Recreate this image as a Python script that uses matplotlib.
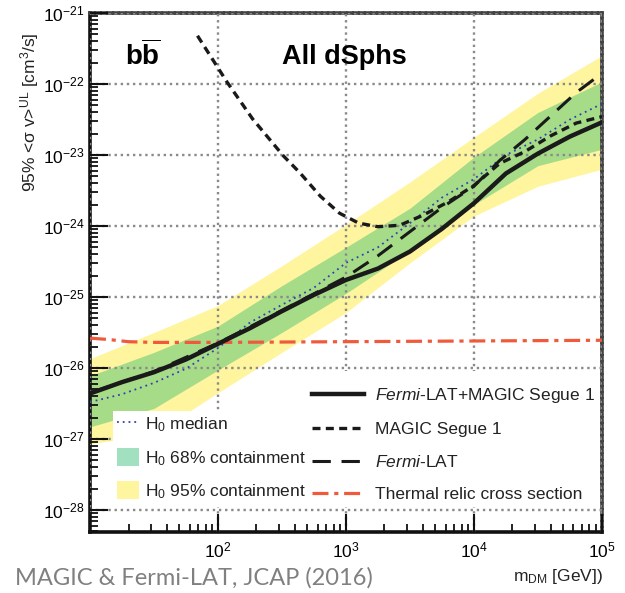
import matplotlib
matplotlib.use("Agg")
import matplotlib.pyplot as plt
from matplotlib.patches import Patch, Rectangle
from matplotlib.lines import Line2D
import numpy as np

plt.rcParams['font.family'] = 'Liberation Sans'
plt.rcParams['mathtext.fontset'] = 'custom'
plt.rcParams['mathtext.rm'] = 'Liberation Sans'
plt.rcParams['mathtext.it'] = 'Liberation Sans:italic'
plt.rcParams['mathtext.bf'] = 'Liberation Sans:bold'

# values, as log10(m/GeV) and log10(<sigma v>/cm^3 s^-1)
band_mass = [1.0, 1.5, 2.0, 2.5, 3.0, 3.5, 4.0, 4.5, 5.0]
yellow_top = [-25.87, -25.50, -25.12, -24.56, -23.98, -23.38, -22.75, -22.13, -21.60]
green_top = [-26.11, -25.78, -25.41, -24.84, -24.30, -23.75, -23.03, -22.40, -21.97]
green_bot = [-26.83, -26.57, -26.03, -25.50, -24.95, -24.35, -23.70, -23.15, -22.92]
yellow_bot = [-27.07, -26.93, -26.35, -25.78, -25.22, -24.52, -23.86, -23.44, -23.20]

med_mass = [1.0, 1.25, 1.5, 1.75, 2.0, 2.25, 2.5, 2.75, 3.0, 3.25, 3.5, 3.75, 4.0, 4.25, 4.5, 4.75, 5.0]
med_sv = [-26.48, -26.37, -26.21, -26.01, -25.72, -25.36, -25.11, -24.87, -24.52, -24.30, -23.96, -23.60, -23.34, -23.00, -22.78, -22.50, -22.28]

comb_mass = [1.0, 1.25, 1.5, 1.75, 2.0, 2.25, 2.5, 2.75, 3.0, 3.25, 3.5, 3.75, 4.0, 4.25, 4.5, 4.75, 5.0]
comb_sv = [-26.36, -26.20, -26.06, -25.88, -25.66, -25.44, -25.20, -24.97, -24.76, -24.60, -24.36, -24.04, -23.68, -23.26, -22.98, -22.74, -22.54]

fermi_mass = [1.0, 1.5, 2.0, 2.5, 3.0, 3.1, 3.25, 3.5, 3.75, 4.0, 4.2, 4.4, 4.6, 4.8, 5.0]
fermi_sv = [-26.35, -26.05, -25.65, -25.19, -24.72, -24.60, -24.42, -24.08, -23.74, -23.44, -23.08, -22.78, -22.45, -22.12, -21.85]

magic_mass = [1.84, 2.07, 2.27, 2.51, 2.64, 2.8, 2.95, 3.1, 3.25, 3.42, 3.6, 3.8, 4.0, 4.2, 4.4, 4.6, 4.8, 5.0]
magic_sv = [-21.32, -21.97, -22.49, -23.01, -23.25, -23.58, -23.82, -23.96, -24.01, -23.99, -23.85, -23.66, -23.43, -23.12, -22.95, -22.73, -22.55, -22.46]

relic_mass = [1.0, 1.15, 1.3, 1.5, 2.0, 3.0, 4.0, 5.0]
relic_sv = [-25.58, -25.60, -25.63, -25.64, -25.64, -25.63, -25.62, -25.61]

xticks = [1e1, 1e2, 1e3, 1e4, 1e5]
xticklabels = ['', r'$10^{2}$', r'$10^{3}$', r'$10^{4}$', r'$10^{5}$']
yticks = [1e-28, 1e-27, 1e-26, 1e-25, 1e-24, 1e-23, 1e-22, 1e-21]
yticklabels = [r'$10^{-28}$', r'$10^{-27}$', r'$10^{-26}$', r'$10^{-25}$',
               r'$10^{-24}$', r'$10^{-23}$', r'$10^{-22}$', r'$10^{-21}$']

def p(a):
    return 10.0 ** np.array(a)

fig = plt.figure(figsize=(6.25, 5.93), dpi=100)
ax = fig.add_axes([0.144, 0.103, 0.819, 0.875])
ax.set_xscale('log')
ax.set_yscale('log')

yellow = '#fff59e'
green = '#a6dc88'
ax.fill_between(p(band_mass), p(yellow_bot), p(yellow_top), color=yellow, lw=0, zorder=1)
ax.fill_between(p(band_mass), p(green_bot), p(green_top), color=green, lw=0, zorder=1.1)

ax.set_axisbelow(False)
ax.grid(True, which='major', ls=(0, (1, 1.6)), color='#8a8a8a', lw=1.7)

ax.plot(p(relic_mass), p(relic_sv), color='#f05a3c', lw=2.3, ls=(0, (5, 1.8, 1.3, 1.8)), zorder=3)
ax.plot(p(med_mass), p(med_sv), color='#3040b0', lw=1.3, ls=(0, (1, 2.2)), zorder=3)
ax.plot(p(magic_mass), p(magic_sv), color='#1a1a1a', lw=2.4, ls=(0, (2.4, 1.6)), zorder=3)
ax.plot(p(fermi_mass), p(fermi_sv), color='#1a1a1a', lw=2.2, ls=(0, (6, 3.5)), zorder=3)
ax.plot(p(comb_mass), p(comb_sv), color='#1a1a1a', lw=3.2, zorder=3.2)

# white boxes behind the legends
ax.add_patch(Rectangle((0.045, 0.048), 0.951, 0.185, transform=ax.transAxes,
                       facecolor='white', edgecolor='none', zorder=2.6))
ax.add_patch(Rectangle((0.42, 0.048), 0.576, 0.262, transform=ax.transAxes,
                       facecolor='white', edgecolor='none', zorder=2.6))

ax.set_xlim(1e1, 1e5)
ax.set_ylim(10 ** -28.31, 1e-21)
ax.set_xticks(xticks)
ax.set_xticklabels(xticklabels)
ax.set_yticks(yticks)
ax.set_yticklabels(yticklabels)
ax.tick_params(which='major', direction='in', length=13, width=1.5, labelsize=12.5,
               top=False, right=False, color='#111111')
ax.tick_params(which='minor', direction='in', length=6, width=1.3,
               top=False, right=False, color='#111111')
ax.tick_params(axis='x', pad=6)
ax.tick_params(axis='y', pad=4)

for s in ['left', 'bottom']:
    ax.spines[s].set_linewidth(2.6)
    ax.spines[s].set_color('#111111')
for s in ['top', 'right']:
    ax.spines[s].set_linewidth(2.6)
    ax.spines[s].set_color('#444444')
    ax.spines[s].set_linestyle((0, (1, 0.7)))

ax.text(0.068, 0.918, r'$\mathbf{b\overline{b}}$', transform=ax.transAxes,
        fontsize=20, va='center', ha='left')
ax.text(0.375, 0.915, 'All dSphs', transform=ax.transAxes, fontsize=19.5,
        fontweight='bold', va='center', ha='left')

h_left = [Line2D([], [], color='#3040b0', lw=1.3, ls=(0, (1, 2.2))),
          Patch(facecolor='#a3e0c0', edgecolor='none'),
          Patch(facecolor=yellow, edgecolor='none')]
l_left = [r'H$_0$ median', r'H$_0$ 68% containment', r'H$_0$ 95% containment']
leg1 = ax.legend(h_left, l_left, loc='center left', bbox_to_anchor=(0.0527, 0.1426),
                 frameon=False, fontsize=12.5, handlelength=1.25, handleheight=1.15,
                 handletextpad=0.35, labelspacing=0.8, borderpad=0, borderaxespad=0)
ax.add_artist(leg1)

h_right = [Line2D([], [], color='#1a1a1a', lw=3.2),
           Line2D([], [], color='#1a1a1a', lw=2.4, ls=(0, (2.4, 1.6))),
           Line2D([], [], color='#1a1a1a', lw=2.2, ls=(0, (6, 3.5))),
           Line2D([], [], color='#f05a3c', lw=2.3, ls=(0, (5, 1.8, 1.3, 1.8)))]
l_right = [r'$\it{Fermi}$-LAT+MAGIC Segue 1', 'MAGIC Segue 1',
           r'$\it{Fermi}$-LAT', 'Thermal relic cross section']
leg2 = ax.legend(h_right, l_right, loc='center left', bbox_to_anchor=(0.4336, 0.1696),
                 frameon=False, fontsize=12.5, handlelength=3.0,
                 handletextpad=0.65, labelspacing=0.98, borderpad=0, borderaxespad=0)
for t in leg1.get_texts() + leg2.get_texts():
    t.set_color('#222222')
leg1.set_zorder(4)
leg2.set_zorder(4)

fig.text(30 / 625, 1 - 112 / 593, '95% <σ v>$^{\\rm UL}$ [cm$^3$/s]', rotation=90,
         fontsize=12.5, va='center', ha='center', color='#222222')
fig.text(603 / 625, 16 / 593, r'm$_{\rm DM}$ [GeV])', fontsize=12.5,
         va='center', ha='right', color='#222222')
fig.text(15 / 625, 15 / 593, 'MAGIC & Fermi-LAT, JCAP (2016)', fontsize=17,
         family='Lato', color='#808080', va='center', ha='left')

fig.savefig('out.png', dpi=100)
